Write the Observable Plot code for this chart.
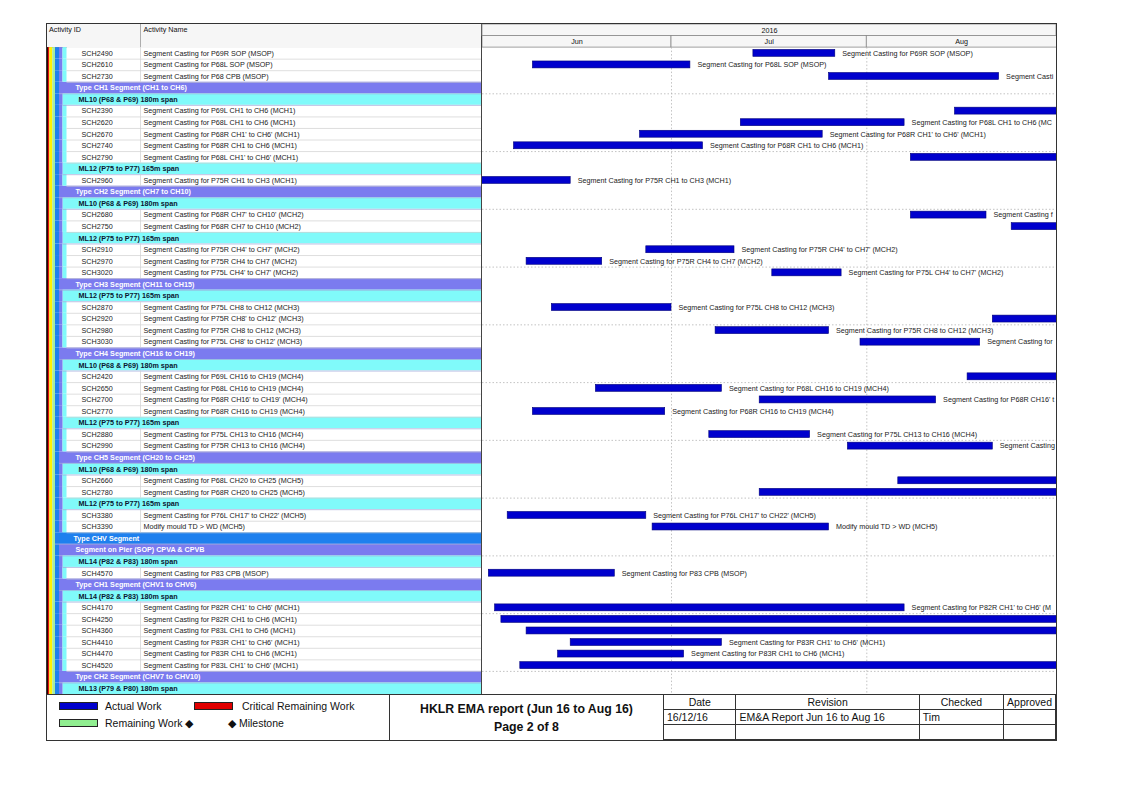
<!DOCTYPE html>
<html><head><meta charset="utf-8">
<script src="https://cdn.jsdelivr.net/npm/d3@7"></script>
<script src="https://cdn.jsdelivr.net/npm/@observablehq/plot@0.6"></script>
<style>
body{margin:0;background:#fff;font-family:"Liberation Sans",Arial,sans-serif;}
#page{position:relative;width:1123px;height:794px;overflow:hidden;background:#fff}
.abs{position:absolute}
.lg{position:absolute;font-size:10.5px;color:#111;line-height:12px;white-space:nowrap}
.sw{position:absolute;width:39px;height:8px;border:1px solid #222;box-sizing:border-box}
table.rev{position:absolute;left:663px;top:694px;width:393px;height:46px;border-collapse:collapse;font-size:10.5px;color:#111}
table.rev td{border:1px solid #333;padding:0 3px;height:14px;line-height:13px;white-space:nowrap}
</style></head><body><div id="page">
<div id="left" class="abs" style="left:47px;top:24px"></div>
<div id="right" class="abs" style="left:482px;top:24px"></div>

<div class="abs" style="left:47px;top:694px;width:343px;height:46px;border-top:1.5px solid #333;border-right:1.5px solid #333;box-sizing:border-box"></div>
<div class="abs" style="left:390px;top:694px;width:273px;height:46px;border-top:1.5px solid #333;box-sizing:border-box"></div>
<div class="sw" style="left:59px;top:702px;background:#0000cd"></div>
<div class="lg" style="left:105px;top:700px">Actual Work</div>
<div class="sw" style="left:194px;top:702px;background:#e00000"></div>
<div class="lg" style="left:242px;top:700px">Critical Remaining Work</div>
<div class="sw" style="left:59px;top:719px;background:#90ee90"></div>
<div class="lg" style="left:105px;top:717px">Remaining Work &#9670;</div>
<div class="lg" style="left:228px;top:717px">&#9670; Milestone</div>
<div class="abs" style="left:390px;top:702px;width:273px;text-align:center;font-weight:bold;font-size:12.3px;color:#111">HKLR EMA report (Jun 16 to Aug 16)</div>
<div class="abs" style="left:390px;top:720px;width:273px;text-align:center;font-weight:bold;font-size:12.3px;color:#111">Page 2 of 8</div>
<table class="rev">
<tr><td style="width:66px;text-align:center">Date</td><td style="width:177px;text-align:center">Revision</td><td style="width:78px;text-align:center">Checked</td><td style="text-align:center">Approved</td></tr>
<tr><td>16/12/16</td><td>EM&amp;A Report Jun 16 to Aug 16</td><td>Tim</td><td></td></tr>
<tr><td></td><td></td><td></td><td></td></tr>
</table>
<div class="abs" style="left:46px;top:23px;width:1011px;height:718px;border:1.5px solid #333;box-sizing:border-box;pointer-events:none"></div>
</div>
<script>
// ---- data ----
// kinds: a = activity, t = type group, m = ML span group, v = top group
const rowKinds = ["a","a","a","t","m","a","a","a","a","a","m","a",
"t","m","a","a","m","a","a","a",
"t","m","a","a","a","a",
"t","m","a","a","a","a","m","a","a",
"t","m","a","a","m","a","a",
"v","t","m","a",
"t","m","a","a","a","a","a","a",
"t","m"];
const rowIds = ["SCH2490","SCH2610","SCH2730","","","SCH2390","SCH2620","SCH2670","SCH2740","SCH2790","","SCH2960",
"","","SCH2680","SCH2750","","SCH2910","SCH2970","SCH3020",
"","","SCH2870","SCH2920","SCH2980","SCH3030",
"","","SCH2420","SCH2650","SCH2700","SCH2770","","SCH2880","SCH2990",
"","","SCH2660","SCH2780","","SCH3380","SCH3390",
"","","","SCH4570",
"","","SCH4170","SCH4250","SCH4360","SCH4410","SCH4470","SCH4520",
"",""];
const rowNames = [
"Segment Casting for P69R SOP (MSOP)",
"Segment Casting for P68L SOP (MSOP)",
"Segment Casting for P68 CPB (MSOP)",
"Type CH1 Segment (CH1 to CH6)",
"ML10 (P68 & P69) 180m span",
"Segment Casting for P69L CH1 to CH6 (MCH1)",
"Segment Casting for P68L CH1 to CH6 (MCH1)",
"Segment Casting for P68R CH1' to CH6' (MCH1)",
"Segment Casting for P68R CH1 to CH6 (MCH1)",
"Segment Casting for P68L CH1' to CH6' (MCH1)",
"ML12 (P75 to P77) 165m span",
"Segment Casting for P75R CH1 to CH3 (MCH1)",
"Type CH2 Segment (CH7 to CH10)",
"ML10 (P68 & P69) 180m span",
"Segment Casting for P68R CH7' to CH10' (MCH2)",
"Segment Casting for P68R CH7 to CH10 (MCH2)",
"ML12 (P75 to P77) 165m span",
"Segment Casting for P75R CH4' to CH7' (MCH2)",
"Segment Casting for P75R CH4 to CH7 (MCH2)",
"Segment Casting for P75L CH4' to CH7' (MCH2)",
"Type CH3 Segment (CH11 to CH15)",
"ML12 (P75 to P77) 165m span",
"Segment Casting for P75L CH8 to CH12 (MCH3)",
"Segment Casting for P75R CH8' to CH12' (MCH3)",
"Segment Casting for P75R CH8 to CH12 (MCH3)",
"Segment Casting for P75L CH8' to CH12' (MCH3)",
"Type CH4 Segment (CH16 to CH19)",
"ML10 (P68 & P69) 180m span",
"Segment Casting for P69L CH16 to CH19 (MCH4)",
"Segment Casting for P68L CH16 to CH19 (MCH4)",
"Segment Casting for P68R CH16' to CH19' (MCH4)",
"Segment Casting for P68R CH16 to CH19 (MCH4)",
"ML12 (P75 to P77) 165m span",
"Segment Casting for P75L CH13 to CH16 (MCH4)",
"Segment Casting for P75R CH13 to CH16 (MCH4)",
"Type CH5 Segment (CH20 to CH25)",
"ML10 (P68 & P69) 180m span",
"Segment Casting for P68L CH20 to CH25 (MCH5)",
"Segment Casting for P68R CH20 to CH25 (MCH5)",
"ML12 (P75 to P77) 165m span",
"Segment Casting for P76L CH17' to CH22' (MCH5)",
"Modify mould TD > WD (MCH5)",
"Type CHV Segment",
"Segment on Pier (SOP) CPVA & CPVB",
"ML14 (P82 & P83) 180m span",
"Segment Casting for P83 CPB (MSOP)",
"Type CH1 Segment (CHV1 to CHV6)",
"ML14 (P82 & P83) 180m span",
"Segment Casting for P82R CH1' to CH6' (MCH1)",
"Segment Casting for P82R CH1 to CH6 (MCH1)",
"Segment Casting for P83L CH1 to CH6 (MCH1)",
"Segment Casting for P83R CH1' to CH6' (MCH1)",
"Segment Casting for P83R CH1 to CH6 (MCH1)",
"Segment Casting for P83L CH1' to CH6' (MCH1)",
"Type CH2 Segment (CHV7 to CHV10)",
"ML13 (P79 & P80) 180m span"];
const startDates = ["2016-07-14","2016-06-09","2016-07-26",null,null,"2016-08-15","2016-07-12","2016-06-26","2016-06-06","2016-08-08",null,"2016-05-20",
null,null,"2016-08-08","2016-08-24",null,"2016-06-27","2016-06-08","2016-07-17",
null,null,"2016-06-12","2016-08-21","2016-07-08","2016-07-31",
null,null,"2016-08-17","2016-06-19","2016-07-15","2016-06-09",null,"2016-07-07","2016-07-29",
null,null,"2016-08-06","2016-07-15",null,"2016-06-05","2016-06-28",
null,null,null,"2016-06-02",
null,null,"2016-06-03","2016-06-04","2016-06-08","2016-06-15","2016-06-13","2016-06-07",
null,null];
const finishDates = ["2016-07-27","2016-07-04","2016-08-22",null,null,"2016-09-20","2016-08-07","2016-07-25","2016-07-06","2016-09-20",null,"2016-06-15",
null,null,"2016-08-20","2016-09-20",null,"2016-07-11","2016-06-20","2016-07-28",
null,null,"2016-07-01","2016-09-20","2016-07-26","2016-08-19",
null,null,"2016-09-20","2016-07-09","2016-08-12","2016-06-30",null,"2016-07-23","2016-08-21",
null,null,"2016-09-20","2016-09-20",null,"2016-06-27","2016-07-26",
null,null,null,"2016-06-22",
null,null,"2016-08-07","2016-09-20","2016-09-20","2016-07-09","2016-07-03","2016-09-20",
null,null];
const monthNames = ["Jun","Jul","Aug"];
const monthStarts = ["2016-06-01","2016-07-01","2016-08-01"];
const monthEnds = ["2016-07-01","2016-08-01","2016-09-01"];
const yearLabel = "2016";
const headerLabels = ["Activity ID","Activity Name"];

// ---- layout & style ----
const HEADER_ROWS = 2;
const NROWS = rowKinds.length + HEADER_ROWS;
const FONT = "'Liberation Sans', Arial, sans-serif";
const FS = 7.2;
const LABEL_DX = 7;
const CHART_W = 574;
const colors = {v:"#1e80ee", t:"#7b7bef", m:"#80fafa", a:"#ffffff"};
const bgStart = {v:55, t:59, m:62.5, a:66.5};
const stripeEnd = {v:59, t:62.5, m:66.5};
const textX = {v:73, t:75, m:78};
const ancestors = {v:[], t:["v"], m:["v","t"], a:["v","t","m"]};
const globalStripes = [{x1:47,x2:48,c:"#300000"},{x1:48,x2:49.3,c:"#e01010"},{x1:49.3,x2:52.3,c:"#fff200"},{x1:52.3,x2:55,c:"#a6eca0"}];
const headerCols = [48.5, 143];

const rows = rowKinds.map((kind,i)=>({
  i, r: i+HEADER_ROWS, kind, id: rowIds[i], name: rowNames[i],
  start: startDates[i] ? new Date(startDates[i]) : null,
  end: finishDates[i] ? new Date(finishDates[i]) : null
}));
const acts = rows.filter(d=>d.kind==="a");
const groups = rows.filter(d=>d.kind!=="a");
const stripes = rows.flatMap(d=>ancestors[d.kind].map(k=>({r:d.r, x1:bgStart[k], x2:stripeEnd[k], c:colors[k]})));

const left = Plot.plot({
  width:434, height:670, margin:0,
  x:{domain:[47,481], axis:null},
  y:{domain:[0,NROWS], reverse:true, axis:null},
  color:{type:"identity"},
  style:{fontFamily:FONT, background:"transparent", overflow:"visible"},
  marks:[
    Plot.rect([0],{x1:()=>47,x2:()=>481,y1:()=>0,y2:()=>HEADER_ROWS,fill:"#f6f6f6"}),
    Plot.ruleX([140],{x:d=>d,y1:()=>0,y2:()=>HEADER_ROWS,stroke:"#9a9a9a",strokeWidth:0.8}),
    Plot.ruleY([HEADER_ROWS],{y:d=>d,stroke:"#777",strokeWidth:0.8}),
    Plot.text(headerLabels,{x:(d,i)=>headerCols[i],y:()=>0.45,text:d=>d,textAnchor:"start",fontSize:FS,fill:"#111"}),
    Plot.rect(globalStripes,{x1:d=>d.x1,x2:d=>d.x2,y1:()=>HEADER_ROWS,y2:()=>NROWS,fill:d=>d.c}),
    Plot.rect(rows,{x1:d=>bgStart[d.kind],x2:()=>481,y1:d=>d.r,y2:d=>d.r+1,fill:d=>colors[d.kind]}),
    Plot.rect(stripes,{x1:d=>d.x1,x2:d=>d.x2,y1:d=>d.r,y2:d=>d.r+1,fill:d=>d.c}),
    Plot.ruleY(rows,{y:d=>d.r+1,x1:d=>bgStart[d.kind],x2:()=>481,stroke:d=>d.kind==="a"?"#d0d0d0":"#9fa6d8",strokeWidth:0.7}),
    Plot.ruleX(acts,{x:()=>140,y1:d=>d.r,y2:d=>d.r+1,stroke:"#d0d0d0",strokeWidth:0.7}),
    Plot.text(groups,{x:d=>textX[d.kind],y:d=>d.r+0.5,text:"name",textAnchor:"start",fontSize:FS,fontWeight:"bold",fill:d=>d.kind==="m"?"#0b1530":"#ffffff"}),
    Plot.text(acts,{x:()=>81,y:d=>d.r+0.5,text:"id",textAnchor:"start",fontSize:FS,fill:"#1a1a1a"}),
    Plot.text(acts,{x:()=>143,y:d=>d.r+0.5,text:"name",textAnchor:"start",fontSize:FS,fill:"#1a1a1a"}),
    Plot.ruleX([481],{x:d=>d,y1:()=>0,y2:()=>NROWS,stroke:"#444",strokeWidth:1})
  ]
});
document.getElementById("left").append(left);

const xStart = new Date("2016-06-01");
const xEnd = new Date(Date.UTC(2016,7,31,2,40));
const months = monthNames.map((n,i)=>{
  const s = new Date(monthStarts[i]), e = new Date(monthEnds[i]);
  const cs = s < xStart ? xStart : s, ce = e > xEnd ? xEnd : e;
  return {name:n, s, e, mid:new Date((+cs + +ce)/2)};
});
const dottedRows = d3.range(4, rowKinds.length, 5).map(j=>j+HEADER_ROWS);

// bar labels: cut at the right edge of the chart, as in the printed schedule
const xs = d3.scaleUtc([xStart, xEnd], [0, CHART_W]);
const ctx = document.createElement("canvas").getContext("2d");
ctx.font = `${FS}px 'Liberation Sans', Arial, sans-serif`;
function fitText(str, avail) {
  if (avail <= 0) return "";
  if (ctx.measureText(str).width <= avail) return str;
  let s = str;
  while (s.length && ctx.measureText(s).width > avail) s = s.slice(0, -1);
  return s;
}
const bars = rows.filter(d=>d.start).map(d=>({...d, label: fitText(d.name, CHART_W - 1 - (xs(d.end) + LABEL_DX))}));
const labelled = bars.filter(d=>d.label.length);

const right = Plot.plot({
  width:CHART_W, height:670, margin:0,
  x:{type:"utc", domain:[xStart,xEnd], axis:null},
  y:{domain:[0,NROWS], reverse:true, axis:null},
  color:{type:"identity"},
  style:{fontFamily:FONT, background:"transparent", overflow:"visible"},
  marks:[
    Plot.rect([yearLabel],{x1:()=>xStart,x2:()=>xEnd,y1:()=>0,y2:()=>1,fill:"#f6f6f6",stroke:"#8a8a8a",strokeWidth:0.8}),
    Plot.rect(months,{x1:"s",x2:"e",y1:()=>1,y2:()=>2,fill:"#f6f6f6",stroke:"#8a8a8a",strokeWidth:0.8,clip:true}),
    Plot.text([yearLabel],{x:()=>new Date((+xStart + +xEnd)/2),y:()=>0.5,text:d=>d,fontSize:FS,fill:"#111"}),
    Plot.text(months,{x:"mid",y:()=>1.5,text:"name",fontSize:FS,fill:"#111"}),
    Plot.ruleX(months.slice(1),{x:"s",y1:()=>HEADER_ROWS,y2:()=>NROWS,stroke:"#b4b4b4",strokeWidth:0.8,strokeDasharray:"1.5,2"}),
    Plot.ruleY(dottedRows,{y:d=>d,stroke:"#b4b4b4",strokeWidth:0.8,strokeDasharray:"1.5,2"}),
    Plot.rect(bars,{x1:"start",x2:"end",y1:d=>d.r+0.2,y2:d=>d.r+0.8,fill:"#0000cd",stroke:"#00007a",strokeWidth:0.6,clip:true}),
    Plot.text(labelled,{x:"end",y:d=>d.r+0.5,text:"label",dx:LABEL_DX,textAnchor:"start",fontSize:FS,fill:"#1a1a1a"})
  ]
});
document.getElementById("right").append(right);
</script>
</body></html>
